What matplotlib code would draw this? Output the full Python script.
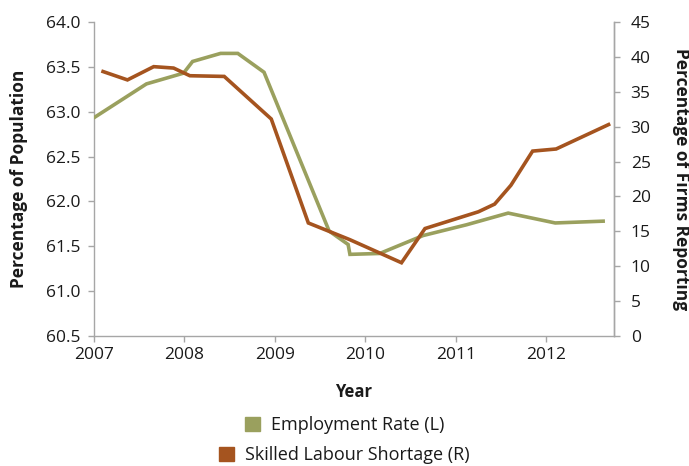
import matplotlib
matplotlib.use("Agg")
import matplotlib.pyplot as plt
from matplotlib.patches import Patch

plt.rcParams['font.family'] = ['Open Sans', 'DejaVu Sans']

# Employment rate (% of population), left axis
emp_x = [2007.01, 2007.58, 2007.99, 2008.09, 2008.40, 2008.59, 2008.88,
         2009.60, 2009.81, 2009.83, 2010.16, 2010.64, 2011.12, 2011.58,
         2012.10, 2012.63]
emp_y = [62.94, 63.31, 63.43, 63.56, 63.65, 63.65, 63.44,
         61.67, 61.52, 61.41, 61.42, 61.62, 61.74, 61.87,
         61.76, 61.78]

# Share of firms reporting skilled labour shortage (%), right axis
short_x = [2007.10, 2007.37, 2007.66, 2007.88, 2008.06, 2008.44, 2008.96,
           2009.37, 2009.83, 2010.40, 2010.66, 2011.25, 2011.43, 2011.61,
           2011.85, 2012.11, 2012.69]
short_y = [37.9, 36.7, 38.6, 38.4, 37.3, 37.2, 31.1,
           16.2, 13.8, 10.5, 15.4, 17.8, 18.9, 21.6,
           26.5, 26.8, 30.3]

years = [2007, 2008, 2009, 2010, 2011, 2012]
left_ticks = [60.5, 61.0, 61.5, 62.0, 62.5, 63.0, 63.5, 64.0]
right_ticks = [0, 5, 10, 15, 20, 25, 30, 35, 40, 45]

green = '#9AA05E'
orange = '#A5541F'
spine_c = '#A6A6A6'
text_c = '#1a1a1a'

fig = plt.figure(figsize=(6.89, 4.66), dpi=100)
ax = fig.add_axes([94/689, 1 - 336/466, (614-94)/689, (336-22)/466])
ax2 = ax.twinx()

ax.plot(emp_x, emp_y, color=green, lw=2.6, solid_joinstyle='miter', zorder=3)
ax2.plot(short_x, short_y, color=orange, lw=2.6, solid_joinstyle='miter', zorder=3)

ax.set_xlim(2007, 2012.75)
ax.set_ylim(60.5, 64.0)
ax2.set_ylim(0, 45)
ax.set_xticks(years)
ax.set_xticklabels([str(y) for y in years])
ax.set_yticks(left_ticks)
ax.set_yticklabels([f'{v:.1f}' for v in left_ticks])
ax2.set_yticks(right_ticks)
ax2.set_yticklabels([str(v) for v in right_ticks])

for a in (ax, ax2):
    a.spines['top'].set_visible(False)
    for s in ('left', 'right', 'bottom'):
        a.spines[s].set_color(spine_c)
        a.spines[s].set_linewidth(1.0)
    a.tick_params(colors=spine_c, labelcolor=text_c, labelsize=12.5,
                  length=4, width=1.0, direction='out')
ax.tick_params(axis='y', pad=6)
ax.tick_params(axis='x', pad=4)
ax2.tick_params(axis='y', pad=8)
ax2.spines['left'].set_visible(False)
ax2.spines['bottom'].set_visible(False)

ax.set_xlabel('Year', fontsize=12, fontweight='bold', color=text_c, labelpad=14)
ax.set_ylabel('Percentage of Population', fontsize=12.5, fontweight='bold',
              color=text_c, labelpad=13)
ax2.set_ylabel('Percentage of Firms Reporting', fontsize=12.5, fontweight='bold',
               color=text_c, rotation=270, labelpad=28)

fig.legend(handles=[Patch(color=green, label='Employment Rate (L)')],
           loc='center', bbox_to_anchor=(0.5, 1 - 425/466), frameon=False,
           fontsize=13, handlelength=0.85, handleheight=0.85,
           handletextpad=0.6, borderpad=0)
fig.legend(handles=[Patch(color=orange, label='Skilled Labour Shortage (R)')],
           loc='center', bbox_to_anchor=(0.5, 1 - 455/466), frameon=False,
           fontsize=13, handlelength=0.85, handleheight=0.85,
           handletextpad=0.6, borderpad=0)
for leg in fig.legends:
    for t in leg.get_texts():
        t.set_color(text_c)

fig.savefig('out.png', dpi=100)
